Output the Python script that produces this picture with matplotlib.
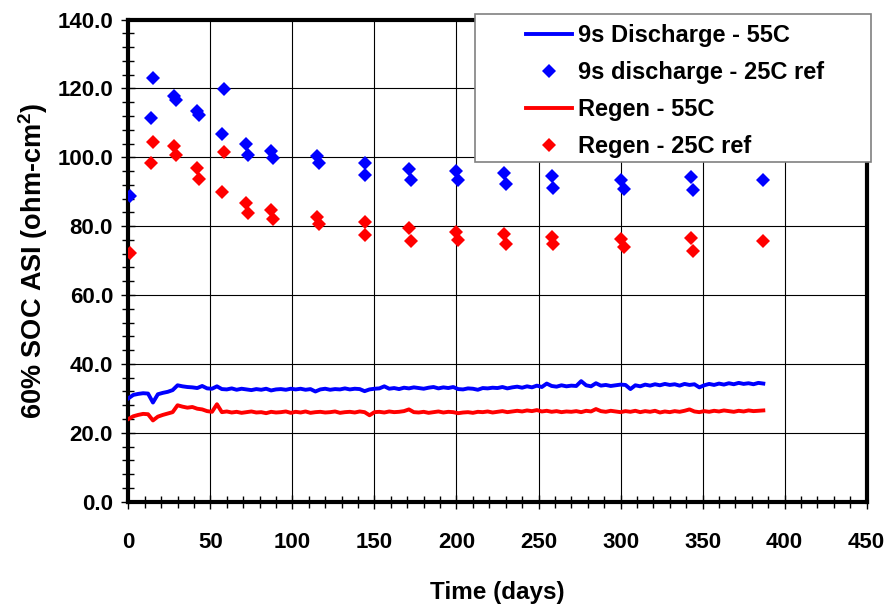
import numpy as np
import matplotlib
matplotlib.use("Agg")
import matplotlib.pyplot as plt
from matplotlib.patches import Rectangle
from matplotlib.ticker import MultipleLocator, FormatStrFormatter

plt.rcParams['font.family'] = ['Liberation Sans', 'DejaVu Sans']
plt.rcParams['font.weight'] = 'bold'
plt.rcParams['mathtext.fontset'] = 'custom'
plt.rcParams['mathtext.rm'] = 'Liberation Sans:bold'
plt.rcParams['mathtext.bf'] = 'Liberation Sans:bold'
plt.rcParams['mathtext.default'] = 'bf'

# --- 55C aging data, read every 3 days ---
discharge_55c = [
    30.0, 31.0, 31.3, 31.5, 31.4, 28.8, 31.2, 31.6, 31.9, 32.4,
    33.8, 33.5, 33.3, 33.2, 33.0, 33.6, 32.9, 32.8, 33.5, 32.7,
    32.6, 32.9, 32.5, 32.8, 32.6, 32.4, 32.7, 32.5, 32.8, 32.3,
    32.6, 32.7, 32.5, 32.8, 32.6, 32.8, 32.5, 32.7, 32.0, 32.6,
    32.8, 32.5, 32.7, 32.6, 32.9, 32.6, 32.8, 32.7, 32.1, 32.6,
    32.8, 32.9, 33.5, 32.8, 33.0, 32.7, 33.1, 32.9, 33.2, 33.0,
    32.8, 33.1, 33.3, 32.9, 33.2, 33.0, 33.3, 32.7, 32.6, 32.9,
    32.8, 32.5, 33.0, 32.9, 33.1, 33.0, 33.3, 32.9, 33.2, 33.4,
    33.1, 33.5, 33.2, 33.7, 33.3, 34.3, 33.6, 33.4, 33.8, 33.5,
    33.7, 33.6, 35.0, 33.8, 33.5, 34.4, 33.7, 33.9, 33.6, 33.8,
    34.0, 33.9, 32.7, 33.8, 33.5, 34.0, 33.7, 34.1, 33.8, 34.2,
    33.9, 34.1, 33.7, 34.2, 33.9, 34.1, 33.2, 33.8, 34.2, 33.9,
    34.3, 34.0, 34.4, 34.1, 34.5, 34.2, 34.4, 34.1, 34.5, 34.3,
]
regen_55c = [
    24.0, 24.8, 25.2, 25.5, 25.4, 23.6, 24.7, 25.2, 25.6, 26.0,
    28.0, 27.6, 27.3, 27.5, 27.0, 26.8, 26.3, 26.1, 28.3, 26.0,
    26.2, 25.9, 26.1, 25.8, 26.0, 26.2, 25.9, 26.0, 25.7, 26.1,
    25.9, 26.0, 26.2, 25.8, 26.1, 25.9, 26.2, 25.8, 26.0, 26.1,
    25.9, 26.0, 26.2, 25.8, 26.0, 26.1, 25.9, 26.2, 26.0, 25.1,
    26.0, 26.1, 25.9, 26.2, 26.0, 26.1, 26.3, 26.8, 26.0, 25.9,
    26.1, 25.8, 26.0, 26.2, 25.9, 26.1, 26.0, 25.7, 25.9, 26.0,
    25.8, 26.1, 26.0, 26.2, 25.9, 26.1, 26.3, 26.0, 26.2, 26.4,
    26.2, 26.5, 26.3, 26.6, 26.2, 26.4, 26.1, 26.3, 26.0, 26.2,
    26.1, 26.3, 26.0, 26.4, 26.2, 26.9, 26.3, 26.1, 26.4, 26.2,
    26.0, 26.3, 26.1, 26.4, 26.0, 26.3, 26.1, 26.4, 25.9, 26.2,
    26.0, 26.3, 26.1, 26.4, 26.8, 26.2, 26.0, 26.3, 26.1, 26.4,
    26.2, 26.5, 26.3, 26.1, 26.4, 26.2, 26.5, 26.3, 26.4, 26.5,
]
days_55c = np.arange(0, 3 * len(discharge_55c), 3)

# --- 25C reference tests ---
ref_days = [1, 15, 14, 28, 29, 42, 43, 58, 57, 72, 73, 87, 88, 115, 116,
            144, 144, 171, 172, 200, 201, 229, 230, 258, 259, 300, 302, 343, 344, 387]
discharge_25c = [88.7, 123.1, 111.4, 117.7, 116.6, 113.4, 112.4, 119.7, 106.9, 103.8,
                 100.8, 101.7, 99.8, 100.4, 98.2, 98.2, 94.8, 96.7, 93.4, 96.0,
                 93.5, 95.3, 92.2, 94.5, 91.2, 93.5, 90.9, 94.3, 90.4, 93.3]
regen_25c = [72.2, 104.5, 98.2, 103.3, 100.6, 96.9, 93.6, 101.5, 89.9, 86.7,
             83.9, 84.8, 82.2, 82.6, 80.7, 81.2, 77.3, 79.5, 75.8, 78.3,
             76.1, 77.8, 74.9, 77.0, 74.9, 76.4, 73.9, 76.7, 72.8, 75.7]

fig = plt.figure(figsize=(8.9, 6.06), dpi=100)
ax = fig.add_axes([0.1442, 0.1721, 0.8296, 0.7957])

ax.plot(days_55c, discharge_55c, color='#0000FF', lw=2.8, label='9s Discharge - 55C', zorder=3)
ax.plot(ref_days, discharge_25c, 'D', color='#0000FF', ms=7.5, mew=0,
        label='9s discharge - 25C ref', zorder=4)
ax.plot(days_55c, regen_55c, color='#FF0000', lw=2.8, label='Regen - 55C', zorder=3)
ax.plot(ref_days, regen_25c, 'D', color='#FF0000', ms=7.5, mew=0,
        label='Regen - 25C ref', zorder=4)

ax.set_xlim(0, 450)
ax.set_ylim(0, 140)
ax.xaxis.set_major_locator(MultipleLocator(50))
ax.xaxis.set_minor_locator(MultipleLocator(10))
ax.yaxis.set_major_locator(MultipleLocator(20))
ax.yaxis.set_minor_locator(MultipleLocator(4))
ax.yaxis.set_major_formatter(FormatStrFormatter('%.1f'))
ax.grid(True, which='major', color='black', lw=0.8)
ax.set_axisbelow(True)

for sp in ax.spines.values():
    sp.set_linewidth(3)
    sp.set_color('black')

ax.tick_params(axis='both', which='major', direction='inout', length=10, width=1,
               labelsize=16)
ax.tick_params(axis='both', which='minor', direction='inout', length=8, width=1)
ax.tick_params(axis='x', which='major', pad=17)
ax.tick_params(axis='y', which='major', pad=6)
for lab in ax.get_xticklabels() + ax.get_yticklabels():
    lab.set_fontweight('bold')

ax.set_xlabel('Time (days)', fontsize=17.5, fontweight='bold', labelpad=20)
ax.set_ylabel('60% SOC ASI (ohm-cm$^{2}$)', fontsize=19.5, fontweight='bold', labelpad=5)

# legend box drawn over the top-right corner of the plot
box = Rectangle((475 / 890, 1 - 162 / 606), 396 / 890, 148 / 606,
                transform=fig.transFigure, facecolor='white', edgecolor='#808080',
                lw=1.2, zorder=8)
fig.patches.append(box)
handles, labels = ax.get_legend_handles_labels()
leg = fig.legend(handles, labels, loc='upper left', bbox_to_anchor=(526 / 890, 1 - 24 / 606),
                 frameon=False, prop={'size': 17, 'weight': 'bold'}, handlelength=1.95,
                 handletextpad=0.25, labelspacing=0.6, borderpad=0, borderaxespad=0)
leg.set_zorder(10)

fig.savefig('out.png', dpi=100)
